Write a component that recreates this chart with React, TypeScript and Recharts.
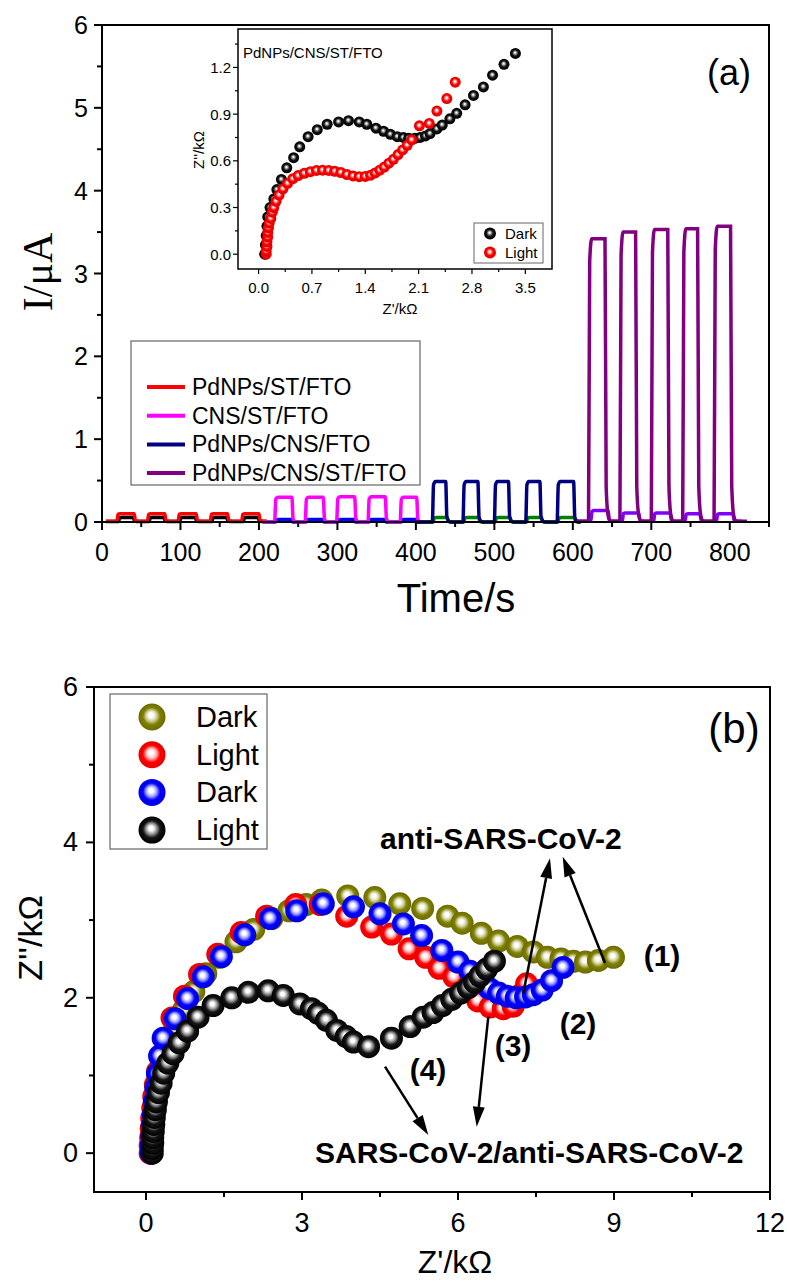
import React from "react";
import { ComposedChart, Line, XAxis, YAxis, ScatterChart, Scatter } from "recharts";

const SANS = '"Liberation Sans", Arial, sans-serif';
const SERIF = '"Liberation Serif", "Times New Roman", serif';

// ---------- panel (a): photocurrent, each pulse = [light on (s), light off (s), peak (µA)]
const RED_PULSES = [[19, 41, 0.1], [58, 80, 0.1], [97, 120, 0.1], [138, 160, 0.1], [178, 200, 0.1]];
const BLACK_PULSES = [[21, 40, 0.055], [60, 79, 0.055], [99, 119, 0.055], [140, 159, 0.055], [180, 199, 0.055]];
const MAGENTA_PULSES = [[220, 242, 0.3], [259, 282, 0.3], [299, 322, 0.305], [339, 361, 0.305], [380, 401, 0.3]];
const BLUE_PULSES = [[221, 241, 0.03], [260, 281, 0.03], [300, 321, 0.03], [340, 360, 0.03], [381, 400, 0.03]];
const NAVY_PULSES = [[421, 438, 0.49], [460, 479, 0.49], [500, 518, 0.49], [540, 558, 0.49], [580, 601, 0.49]];
const GREEN_PULSES = [[422, 440, 0.055], [461, 480, 0.055], [501, 520, 0.055], [541, 560, 0.055], [581, 602, 0.055]];
const PURPLE_PULSES = [[620, 641, 3.42], [660, 680, 3.5], [700, 721, 3.53], [740, 759, 3.54], [780, 801, 3.57]];
const VIOLET_PULSES = [[623, 645, 0.14], [663, 684, 0.11], [703, 724, 0.11], [743, 762, 0.1], [783, 804, 0.1]];

const A_X_TICKS = [0, 50, 100, 150, 200, 250, 300, 350, 400, 450, 500, 550, 600, 650, 700, 750, 800, 850];
const A_Y_TICKS = [0, 0.5, 1, 1.5, 2, 2.5, 3, 3.5, 4, 4.5, 5, 5.5, 6];

// ---------- inset: Nyquist of PdNPs/CNS/ST/FTO, [Z' kΩ, Z'' kΩ]
const INSET_DARK = [
  [0.08, 0.0], [0.09, 0.06], [0.1, 0.12], [0.11, 0.18], [0.12, 0.24], [0.15, 0.3], [0.2, 0.355], [0.24, 0.415],
  [0.3, 0.48], [0.37, 0.555], [0.46, 0.62], [0.54, 0.69], [0.65, 0.755], [0.77, 0.8], [0.9, 0.835], [1.05, 0.85],
  [1.18, 0.858], [1.32, 0.85], [1.42, 0.835], [1.54, 0.81], [1.64, 0.79], [1.73, 0.77], [1.82, 0.755], [1.9, 0.75],
  [1.97, 0.745], [2.05, 0.745], [2.12, 0.75], [2.19, 0.76], [2.25, 0.775], [2.34, 0.805], [2.41, 0.83], [2.51, 0.87],
  [2.6, 0.905], [2.71, 0.96], [2.82, 1.02], [2.95, 1.075], [3.07, 1.15], [3.22, 1.22], [3.37, 1.29],
];
const INSET_LIGHT = [
  [0.1, 0.0], [0.1, 0.02], [0.11, 0.05], [0.11, 0.08], [0.12, 0.11], [0.12, 0.14], [0.13, 0.17], [0.14, 0.2],
  [0.16, 0.23], [0.18, 0.27], [0.2, 0.3], [0.23, 0.34], [0.27, 0.38], [0.32, 0.42], [0.38, 0.455], [0.45, 0.485],
  [0.52, 0.505], [0.6, 0.52], [0.68, 0.53], [0.76, 0.538], [0.84, 0.54], [0.92, 0.538], [1.0, 0.533], [1.08, 0.525],
  [1.16, 0.512], [1.24, 0.503], [1.32, 0.498], [1.4, 0.5], [1.47, 0.508], [1.53, 0.522], [1.59, 0.54], [1.65, 0.56],
  [1.71, 0.585], [1.77, 0.61], [1.83, 0.64], [1.89, 0.67], [1.95, 0.7], [2.01, 0.735], [2.11, 0.825], [2.24, 0.84],
  [2.34, 0.92], [2.47, 1.0], [2.58, 1.105],
];
const IN_X_TICKS = [0, 0.35, 0.7, 1.05, 1.4, 1.75, 2.1, 2.45, 2.8, 3.15, 3.5];
const IN_Y_TICKS = [0, 0.15, 0.3, 0.45, 0.6, 0.75, 0.9, 1.05, 1.2, 1.35];

// ---------- panel (b): Nyquist plots, [Z' kΩ, Z'' kΩ]
const OLIVE_DARK = [
  [0.1, 0], [0.1, 0.08], [0.11, 0.17], [0.12, 0.27], [0.13, 0.38], [0.15, 0.5], [0.17, 0.63], [0.2, 0.78],
  [0.25, 0.95], [0.32, 1.14], [0.42, 1.36], [0.55, 1.6], [0.72, 1.84], [0.92, 2.08], [1.15, 2.31], [1.42, 2.52],
  [1.73, 2.72], [2.07, 2.88], [2.42, 3.02], [2.75, 3.12], [3.08, 3.2], [3.38, 3.26], [3.88, 3.31], [4.4, 3.29],
  [4.88, 3.21], [5.32, 3.15], [5.8, 3.05], [6.08, 2.96], [6.45, 2.83], [6.78, 2.73], [7.14, 2.66], [7.45, 2.59],
  [7.72, 2.52], [7.98, 2.5], [8.22, 2.47], [8.45, 2.46], [8.7, 2.48], [8.99, 2.52],
];
const RED_LIGHT = [
  [0.08, 0], [0.08, 0.1], [0.09, 0.2], [0.1, 0.32], [0.11, 0.45], [0.13, 0.58], [0.15, 0.73], [0.18, 0.88],
  [0.22, 1.05], [0.28, 1.25], [0.36, 1.46], [0.5, 1.74], [0.74, 2.02], [1.03, 2.3], [1.38, 2.56], [1.83, 2.84],
  [2.32, 3.05], [2.88, 3.2], [3.35, 3.2], [3.86, 3.05], [4.34, 2.91], [4.72, 2.82], [5.06, 2.63], [5.38, 2.52],
  [5.64, 2.38], [5.92, 2.27], [6.16, 2.1], [6.38, 1.96], [6.62, 1.88], [6.87, 1.86], [7.06, 1.89], [7.22, 2.05],
  [7.32, 2.18],
];
const BLUE_DARK = [
  [0.1, 0], [0.1, 0.1], [0.11, 0.22], [0.12, 0.35], [0.14, 0.5], [0.16, 0.66], [0.19, 0.84], [0.22, 1.02],
  [0.26, 1.25], [0.33, 1.48], [0.56, 1.73], [0.8, 1.99], [1.1, 2.27], [1.45, 2.53], [1.9, 2.81], [2.39, 3.02],
  [2.9, 3.12], [3.41, 3.21], [3.99, 3.17], [4.5, 3.08], [4.95, 2.95], [5.3, 2.8], [5.69, 2.61], [6.0, 2.46],
  [6.23, 2.34], [6.42, 2.2], [6.6, 2.12], [6.78, 2.06], [6.95, 2.02], [7.12, 2.0], [7.3, 2.01], [7.45, 2.04],
  [7.62, 2.1], [7.8, 2.22], [8.02, 2.39],
];
const BLACK_LIGHT = [
  [0.12, 0], [0.12, 0.06], [0.13, 0.13], [0.13, 0.2], [0.14, 0.28], [0.15, 0.37], [0.16, 0.46], [0.18, 0.56],
  [0.2, 0.66], [0.24, 0.78], [0.29, 0.9], [0.34, 1.03], [0.42, 1.16], [0.52, 1.28], [0.64, 1.42], [0.8, 1.57],
  [1.0, 1.75], [1.29, 1.9], [1.65, 2.0], [1.97, 2.07], [2.35, 2.09], [2.64, 2.03], [2.96, 1.92], [3.18, 1.86],
  [3.31, 1.8], [3.47, 1.71], [3.67, 1.58], [3.85, 1.5], [3.99, 1.43], [4.28, 1.37], [4.72, 1.48], [5.08, 1.63],
  [5.33, 1.75], [5.52, 1.81], [5.7, 1.9], [5.88, 1.98], [6.05, 2.06], [6.2, 2.13], [6.32, 2.2], [6.42, 2.28],
  [6.55, 2.37], [6.7, 2.47],
];
const B_X_TICKS = [0, 1.5, 3, 4.5, 6, 7.5, 9, 10.5, 12];
const B_Y_TICKS = [0, 1, 2, 3, 4, 5, 6];

// square-wave trace from pulse list (rounded edges)
function trace(start: number, end: number, base: number, pulses: number[][]) {
  const pts = [{ t: start, v: base }];
  pulses.forEach(([on, off, h]) => {
    const d = h - base;
    pts.push(
      { t: on, v: base },
      { t: on + 1.5, v: base + d * 0.92 },
      { t: on + 4, v: h },
      { t: off, v: h },
      { t: off + 1.5, v: base + d * 0.12 },
      { t: off + 4, v: base + d * 0.02 },
      { t: off + 7, v: base }
    );
  });
  pts.push({ t: end, v: base });
  return pts;
}

const xy = (arr: number[][]) => arr.map(([x, y]) => ({ x, y }));

const isStep = (v: number, step: number) => Math.abs(v / step - Math.round(v / step)) < 1e-6;

// axisX: pixel x of the left frame in the chart's own svg
const leftTick = (axisX: number, step: number, fmt: (v: number) => string, big: number, small: number, fs: number, gap: number, sw: number) =>
  (p: any) => {
    const v = p.payload.value;
    const major = isStep(v, step);
    return (
      <g>
        <line x1={axisX} x2={axisX - (major ? big : small)} y1={p.y} y2={p.y} stroke="#000" strokeWidth={sw} />
        {major && (
          <text x={axisX - big - gap} y={p.y} textAnchor="end" dominantBaseline="central" fontSize={fs} fontFamily={SANS} fill="#000">
            {fmt(v)}
          </text>
        )}
      </g>
    );
  };

// axisY: pixel y of the bottom frame in the chart's own svg
const bottomTick = (axisY: number, step: number, fmt: (v: number) => string, big: number, small: number, fs: number, off: number, sw: number) =>
  (p: any) => {
    const v = p.payload.value;
    const major = isStep(v, step);
    return (
      <g>
        <line x1={p.x} x2={p.x} y1={axisY} y2={axisY + (major ? big : small)} stroke="#000" strokeWidth={sw} />
        {major && (
          <text x={p.x} y={axisY + off} textAnchor="middle" dominantBaseline="central" fontSize={fs} fontFamily={SANS} fill="#000">
            {fmt(v)}
          </text>
        )}
      </g>
    );
  };

const ball = (id: string, r: number) => (p: any) => <circle cx={p.cx} cy={p.cy} r={r} fill={`url(#${id})`} />;

const sphereGrad = (id: string, light: string, mid: string, dark: string, core = 0.16) => (
  <radialGradient id={id} cx="0.5" cy="0.5" r="0.5" fx="0.46" fy="0.42">
    <stop offset="0" stopColor="#ffffff" />
    <stop offset={core} stopColor="#ffffff" />
    <stop offset={core + 0.22} stopColor={light} />
    <stop offset={core + 0.48} stopColor={mid} />
    <stop offset="1" stopColor={dark} />
  </radialGradient>
);

function Arrow({ x1, y1, x2, y2 }: { x1: number; y1: number; x2: number; y2: number }) {
  const L = Math.hypot(x2 - x1, y2 - y1);
  const ux = (x2 - x1) / L, uy = (y2 - y1) / L;
  const bx = x2 - ux * 20, by = y2 - uy * 20;
  return (
    <g>
      <line x1={x1} y1={y1} x2={bx} y2={by} stroke="#000" strokeWidth={2.5} />
      <polygon points={`${x2},${y2} ${bx - uy * 6},${by + ux * 6} ${bx + uy * 6},${by - ux * 6}`} fill="#000" />
    </g>
  );
}

const legendA = [
  { name: "PdNPs/ST/FTO", color: "#ff0000" },
  { name: "CNS/ST/FTO", color: "#ff00ff" },
  { name: "PdNPs/CNS/FTO", color: "#000080" },
  { name: "PdNPs/CNS/ST/FTO", color: "#800080" },
];
const legendB = [
  { name: "Dark", grad: "gOlive" },
  { name: "Light", grad: "gRed" },
  { name: "Dark", grad: "gBlue" },
  { name: "Light", grad: "gBlack" },
];

export default function App() {
  const lineProps = { type: "monotone" as const, dataKey: "v", dot: false, strokeWidth: 3.5, isAnimationActive: false };
  return (
    <div style={{ position: "absolute", left: 0, top: 0, width: 787, height: 1284, background: "#fff", overflow: "hidden" }}>
      {/* panel (a): plot area x 102..769, y 25..522 */}
      <div style={{ position: "absolute", left: 0, top: 0 }}>
        <ComposedChart width={787} height={640} margin={{ top: 25, right: 18, bottom: 78, left: 42 }}>
          <XAxis type="number" dataKey="t" domain={[0, 850]} ticks={A_X_TICKS} interval={0} height={40} tickSize={0} tickMargin={0}
            axisLine={false} tickLine={false} tick={bottomTick(522, 100, (v) => String(v), 8, 5, 25, 30, 2)} />
          <YAxis type="number" domain={[0, 6]} ticks={A_Y_TICKS} interval={0} width={60} tickSize={0} tickMargin={0}
            axisLine={false} tickLine={false} tick={leftTick(102, 1, (v) => String(v), 8, 5, 25, 6, 2)} />
          <Line {...lineProps} data={trace(5, 210, 0.005, BLACK_PULSES)} stroke="#000000" />
          <Line {...lineProps} data={trace(205, 410, 0.0, BLUE_PULSES)} stroke="#0000ff" />
          <Line {...lineProps} data={trace(400, 610, 0.0, GREEN_PULSES)} stroke="#008000" />
          <Line {...lineProps} data={trace(605, 815, 0.01, VIOLET_PULSES)} stroke="#8000ff" />
          <Line {...lineProps} data={trace(5, 210, 0.01, RED_PULSES)} stroke="#ff0000" />
          <Line {...lineProps} data={trace(205, 410, 0.0, MAGENTA_PULSES)} stroke="#ff00ff" />
          <Line {...lineProps} data={trace(400, 610, 0.0, NAVY_PULSES)} stroke="#000080" />
          <Line {...lineProps} data={trace(605, 822, 0.01, PURPLE_PULSES)} stroke="#800080" />
        </ComposedChart>
      </div>

      {/* inset: plot area x 238..552, y 29..269 */}
      <div style={{ position: "absolute", left: 0, top: 0 }}>
        <ScatterChart width={787} height={330} margin={{ top: 29, right: 235, bottom: 36, left: 208 }}>
          <XAxis type="number" dataKey="x" domain={[-0.27, 3.85]} ticks={IN_X_TICKS} interval={0} height={25} tickSize={0} tickMargin={0}
            axisLine={false} tickLine={false} tick={bottomTick(269, 0.7, (v) => v.toFixed(1), 5, 3, 15, 18, 1.2)} />
          <YAxis type="number" dataKey="y" domain={[-0.095, 1.447]} ticks={IN_Y_TICKS} interval={0} width={30} tickSize={0} tickMargin={0}
            axisLine={false} tickLine={false} tick={leftTick(238, 0.3, (v) => v.toFixed(1), 5, 3, 15, 2, 1.2)} />
          <Scatter data={xy(INSET_DARK)} shape={ball("gBlackS", 5.5)} isAnimationActive={false} />
          <Scatter data={xy(INSET_LIGHT)} shape={ball("gRedS", 5.5)} isAnimationActive={false} />
        </ScatterChart>
      </div>

      {/* panel (b): plot area x 94..770, y 687..1192 (page) */}
      <div style={{ position: "absolute", left: 0, top: 640 }}>
        <ScatterChart width={787} height={644} margin={{ top: 47, right: 17, bottom: 52, left: 34 }}>
          <XAxis type="number" dataKey="x" domain={[-1, 12]} ticks={B_X_TICKS} interval={0} height={40} tickSize={0} tickMargin={0}
            axisLine={false} tickLine={false} tick={bottomTick(552, 3, (v) => String(v), 8, 5, 27, 31, 2)} />
          <YAxis type="number" dataKey="y" domain={[-0.5, 6]} ticks={B_Y_TICKS} interval={0} width={60} tickSize={0} tickMargin={0}
            axisLine={false} tickLine={false} tick={leftTick(94, 2, (v) => String(v), 8, 5, 27, 8, 2)} />
          <Scatter data={xy(OLIVE_DARK)} shape={ball("gOlive", 11.5)} isAnimationActive={false} />
          <Scatter data={xy(RED_LIGHT)} shape={ball("gRed", 11.5)} isAnimationActive={false} />
          <Scatter data={xy(BLUE_DARK)} shape={ball("gBlue", 11.5)} isAnimationActive={false} />
          <Scatter data={xy(BLACK_LIGHT)} shape={ball("gBlack", 11.5)} isAnimationActive={false} />
        </ScatterChart>
      </div>

      {/* frames, titles, legends, annotations */}
      <svg width={787} height={1284} style={{ position: "absolute", left: 0, top: 0, pointerEvents: "none" }} fontFamily={SANS}>
        <defs>
          {sphereGrad("gOlive", "#d4d4a6", "#808000", "#6a6a00")}
          {sphereGrad("gRed", "#ffb4b4", "#ff0000", "#e60000")}
          {sphereGrad("gBlue", "#a8a8ff", "#0000ff", "#0000dc")}
          {sphereGrad("gBlack", "#a0a0a0", "#151515", "#000000")}
          {sphereGrad("gRedS", "#ff9a9a", "#ff0000", "#e00000", 0.08)}
          {sphereGrad("gBlackS", "#8a8a8a", "#111111", "#000000", 0.08)}
        </defs>

        {/* panel (a) */}
        <rect x={102} y={25} width={667} height={497} fill="none" stroke="#000" strokeWidth={2} />
        <text x={38} y={272} transform="rotate(-90 38 272)" textAnchor="middle" dominantBaseline="central" fontSize={42} fontFamily={SERIF}>I/μA</text>
        <text x={456} y={598} textAnchor="middle" dominantBaseline="central" fontSize={40}>Time/s</text>
        <text x={729} y={72} textAnchor="middle" dominantBaseline="central" fontSize={36}>(a)</text>
        <rect x={131} y={341} width={289} height={144} fill="none" stroke="#666" strokeWidth={1.2} />
        {legendA.map((d, i) => (
          <g key={d.name}>
            <line x1={147} x2={185} y1={387 + i * 28.7} y2={387 + i * 28.7} stroke={d.color} strokeWidth={4} />
            <text x={192} y={387 + i * 28.7} dominantBaseline="central" fontSize={23}>{d.name}</text>
          </g>
        ))}

        {/* inset */}
        <rect x={238} y={29} width={314} height={240} fill="none" stroke="#000" strokeWidth={1.5} />
        <text x={243} y={52} dominantBaseline="central" fontSize={15}>PdNPs/CNS/ST/FTO</text>
        <text x={400} y={308} textAnchor="middle" dominantBaseline="central" fontSize={15}>Z'/kΩ</text>
        <text x={198} y={150} transform="rotate(-90 198 150)" textAnchor="middle" dominantBaseline="central" fontSize={15}>Z''/kΩ</text>
        <rect x={474} y={223} width={69} height={40} fill="#fff" stroke="#666" strokeWidth={1} />
        <circle cx={490} cy={233.5} r={6} fill="url(#gBlackS)" />
        <text x={505} y={233.5} dominantBaseline="central" fontSize={15}>Dark</text>
        <circle cx={490} cy={252.5} r={6} fill="url(#gRedS)" />
        <text x={505} y={252.5} dominantBaseline="central" fontSize={15}>Light</text>

        {/* panel (b) */}
        <rect x={94} y={687} width={676} height={505} fill="none" stroke="#000" strokeWidth={2} />
        <text x={30} y={938} transform="rotate(-90 30 938)" textAnchor="middle" dominantBaseline="central" fontSize={34}>Z''/kΩ</text>
        <text x={455} y={1262} textAnchor="middle" dominantBaseline="central" fontSize={32}>Z'/kΩ</text>
        <text x={734} y={728} textAnchor="middle" dominantBaseline="central" fontSize={42}>(b)</text>
        <rect x={110} y={694} width={157} height={155} fill="#fff" stroke="#666" strokeWidth={1.2} />
        {legendB.map((d, i) => (
          <g key={i}>
            <circle cx={152} cy={717 + i * 37.7} r={13.5} fill={`url(#${d.grad})`} />
            <text x={196} y={717 + i * 37.7} dominantBaseline="central" fontSize={29}>{d.name}</text>
          </g>
        ))}

        <g fontWeight="bold" fontSize={30}>
          <text x={380} y={838} dominantBaseline="central">anti-SARS-CoV-2</text>
          <text x={315} y={1152} dominantBaseline="central">SARS-CoV-2/anti-SARS-CoV-2</text>
          <text x={662} y={955} textAnchor="middle" dominantBaseline="central">(1)</text>
          <text x={578} y={1023} textAnchor="middle" dominantBaseline="central">(2)</text>
          <text x={513} y={1045} textAnchor="middle" dominantBaseline="central">(3)</text>
          <text x={428} y={1069} textAnchor="middle" dominantBaseline="central">(4)</text>
        </g>
        <Arrow x1={605} y1={963} x2={562.7} y2={856.7} />
        <Arrow x1={523.3} y1={993.3} x2={550} y2={858.3} />
        <Arrow x1={488.3} y1={1016.7} x2={476.7} y2={1126.7} />
        <Arrow x1={385} y1={1066.7} x2={428.3} y2={1135} />
      </svg>
    </div>
  );
}
